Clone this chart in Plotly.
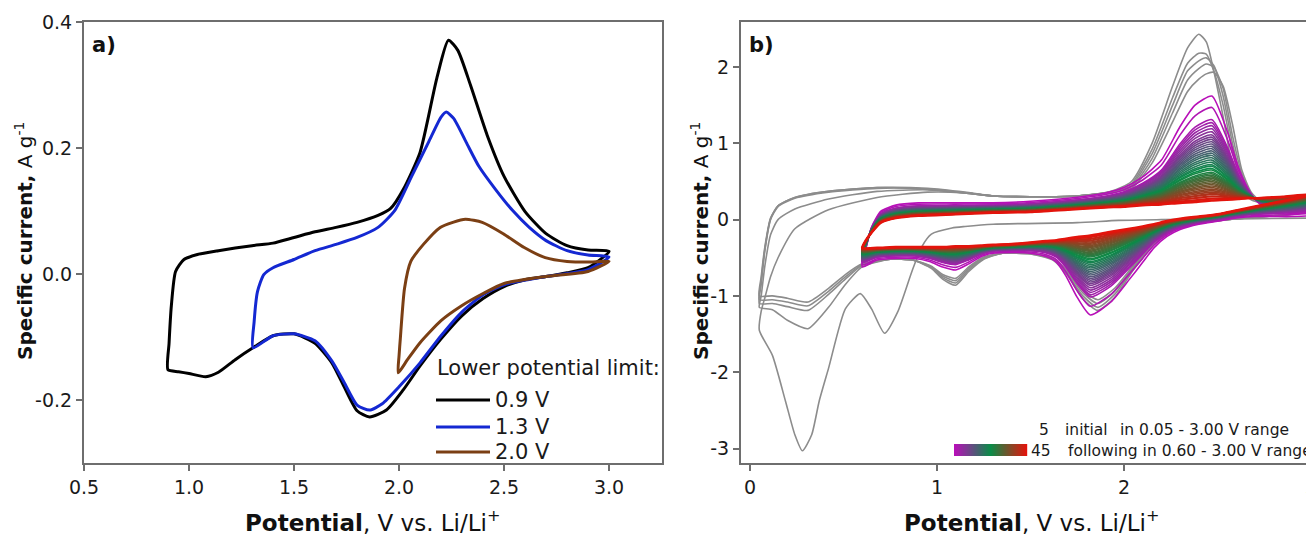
import plotly.graph_objects as go
from plotly.colors import sample_colorscale

# page body has an 8 px margin: the figure is shifted by OX, OY in the window
OX, OY = 8, 8
W, H = 1314 - OX, 534 - OY

# ---------------- Panel a data ----------------
lim_labels = ["0.9 V", "1.3 V", "2.0 V"]
lim_colors = ["#000000", "#1428d2", "#7b3f14"]

a09_up_v = [0.90, 0.905, 0.916, 0.936, 0.976, 1.04, 1.14, 1.30, 1.40, 1.50, 1.60, 1.70, 1.80, 1.90, 1.96, 2.02, 2.10, 2.18, 2.235, 2.28, 2.34, 2.42, 2.50, 2.60, 2.70, 2.80, 2.90, 3.00]
a09_up_i = [-0.152, -0.11, -0.05, 0.004, 0.023, 0.031, 0.037, 0.045, 0.049, 0.058, 0.067, 0.074, 0.082, 0.093, 0.104, 0.134, 0.193, 0.311, 0.371, 0.355, 0.30, 0.22, 0.155, 0.099, 0.064, 0.045, 0.038, 0.036]
a09_dn_v = [3.00, 2.90, 2.80, 2.70, 2.60, 2.50, 2.40, 2.30, 2.20, 2.10, 2.02, 1.94, 1.86, 1.80, 1.74, 1.68, 1.60, 1.50, 1.40, 1.31, 1.22, 1.14, 1.08, 1.00, 0.95, 0.90]
a09_dn_i = [0.02, 0.01, 0.002, -0.004, -0.009, -0.02, -0.039, -0.066, -0.103, -0.146, -0.184, -0.216, -0.227, -0.217, -0.18, -0.141, -0.11, -0.095, -0.098, -0.116, -0.136, -0.156, -0.163, -0.158, -0.155, -0.152]

a13_up_v = [1.305, 1.31, 1.326, 1.356, 1.40, 1.50, 1.60, 1.70, 1.80, 1.90, 1.98, 2.06, 2.14, 2.20, 2.225, 2.26, 2.32, 2.38, 2.46, 2.54, 2.62, 2.70, 2.80, 2.90, 3.00]
a13_up_i = [-0.117, -0.076, -0.028, -0.001, 0.01, 0.023, 0.037, 0.047, 0.058, 0.074, 0.101, 0.155, 0.209, 0.249, 0.257, 0.247, 0.209, 0.171, 0.134, 0.101, 0.074, 0.053, 0.037, 0.030, 0.027]
a13_dn_v = [3.00, 2.90, 2.70, 2.50, 2.40, 2.30, 2.20, 2.10, 2.00, 1.92, 1.86, 1.80, 1.74, 1.68, 1.60, 1.50, 1.40, 1.305]
a13_dn_i = [0.018, 0.007, -0.004, -0.017, -0.033, -0.06, -0.098, -0.141, -0.179, -0.206, -0.216, -0.208, -0.173, -0.138, -0.106, -0.095, -0.098, -0.117]

a20_up_v = [1.996, 2.00, 2.006, 2.026, 2.056, 2.116, 2.196, 2.256, 2.316, 2.396, 2.496, 2.596, 2.696, 2.80, 2.90, 3.00]
a20_up_i = [-0.157, -0.13, -0.103, -0.023, 0.02, 0.047, 0.074, 0.082, 0.087, 0.082, 0.064, 0.042, 0.026, 0.02, 0.019, 0.02]
a20_dn_v = [3.00, 2.90, 2.70, 2.50, 2.40, 2.30, 2.20, 2.10, 2.04, 1.996]
a20_dn_i = [0.01, 0.004, -0.004, -0.015, -0.031, -0.05, -0.074, -0.109, -0.136, -0.157]

a_xticks = [0.5, 1.0, 1.5, 2.0, 2.5, 3.0]
a_xticktext = ["0.5", "1.0", "1.5", "2.0", "2.5", "3.0"]
a_yticks = [-0.2, 0.0, 0.2, 0.4]
a_yticktext = ["-0.2", "0.0", "0.2", "0.4"]

# ---------------- Panel b data ----------------
# cycle 1 cathodic sweep (3.00 -> 0.05 V)
g1_dn_v = [3.00, 2.60, 2.20, 1.97, 1.75, 1.30, 1.15, 1.08, 0.97, 0.92, 0.87, 0.79, 0.72, 0.65, 0.59, 0.51, 0.42, 0.37, 0.33, 0.28, 0.24, 0.19, 0.12, 0.05]
g1_dn_i = [0.02, 0.01, 0.0, -0.01, -0.04, -0.06, -0.09, -0.11, -0.19, -0.35, -0.65, -1.21, -1.49, -1.17, -0.97, -1.17, -1.95, -2.38, -2.82, -3.03, -2.82, -2.38, -1.78, -1.45]

# cycles 2-5 cathodic sweeps (shared potentials)
g_dn_v = [3.00, 2.85, 2.70, 2.55, 2.40, 2.25, 2.15, 2.05, 1.95, 1.86, 1.78, 1.70, 1.62, 1.50, 1.35, 1.25, 1.17, 1.10, 1.03, 0.97, 0.87, 0.75, 0.60, 0.51, 0.42, 0.31, 0.20, 0.12, 0.05]
g2_dn_i = [0.10, 0.06, 0.03, 0.00, -0.05, -0.15, -0.32, -0.60, -0.90, -1.05, -0.92, -0.68, -0.50, -0.44, -0.44, -0.52, -0.68, -0.86, -0.78, -0.64, -0.53, -0.52, -0.62, -0.85, -1.15, -1.43, -1.32, -1.18, -1.15]
g3_dn_i = [0.10, 0.06, 0.03, 0.00, -0.05, -0.15, -0.33, -0.62, -0.94, -1.10, -0.96, -0.70, -0.51, -0.44, -0.44, -0.51, -0.66, -0.83, -0.76, -0.63, -0.53, -0.52, -0.60, -0.78, -0.98, -1.19, -1.14, -1.10, -1.10]
g4_dn_i = [0.10, 0.06, 0.03, 0.00, -0.05, -0.15, -0.34, -0.64, -0.98, -1.15, -1.00, -0.72, -0.52, -0.45, -0.44, -0.50, -0.64, -0.80, -0.74, -0.62, -0.53, -0.52, -0.59, -0.75, -0.94, -1.13, -1.08, -1.05, -1.05]
g5_dn_i = [0.10, 0.06, 0.03, 0.00, -0.05, -0.15, -0.35, -0.66, -1.02, -1.19, -1.04, -0.74, -0.53, -0.45, -0.44, -0.49, -0.62, -0.77, -0.72, -0.61, -0.53, -0.52, -0.58, -0.72, -0.90, -1.08, -1.03, -1.00, -1.00]

# cycles 1-5 anodic sweeps (0.05 -> 3.00 V, shared potentials)
g_up_v = [0.05, 0.06, 0.08, 0.11, 0.15, 0.24, 0.42, 0.68, 0.95, 1.15, 1.30, 1.50, 1.75, 1.93, 2.04, 2.15, 2.26, 2.34, 2.40, 2.44, 2.48, 2.53, 2.58, 2.63, 2.68, 2.74, 2.85, 3.00]
g1_up_i = [-1.45, -1.20, -1.02, -0.75, -0.50, -0.12, 0.13, 0.29, 0.36, 0.35, 0.31, 0.30, 0.31, 0.37, 0.50, 1.00, 1.75, 2.25, 2.43, 2.33, 1.95, 1.35, 0.70, 0.38, 0.26, 0.22, 0.25, 0.32]
g2_up_i = [-1.15, -1.00, -0.60, -0.20, 0.00, 0.14, 0.27, 0.37, 0.39, 0.35, 0.31, 0.30, 0.31, 0.36, 0.47, 0.92, 1.60, 2.05, 2.18, 2.17, 1.95, 1.50, 0.90, 0.48, 0.29, 0.22, 0.25, 0.32]
g3_up_i = [-1.10, -0.85, -0.40, 0.00, 0.17, 0.28, 0.36, 0.41, 0.40, 0.35, 0.31, 0.30, 0.31, 0.36, 0.45, 0.86, 1.50, 1.95, 2.08, 2.12, 2.02, 1.62, 1.00, 0.55, 0.32, 0.22, 0.25, 0.32]
g4_up_i = [-1.05, -0.80, -0.38, 0.01, 0.18, 0.29, 0.37, 0.42, 0.40, 0.35, 0.31, 0.30, 0.31, 0.36, 0.43, 0.80, 1.40, 1.83, 1.98, 2.04, 2.00, 1.72, 1.10, 0.60, 0.34, 0.22, 0.25, 0.32]
g5_up_i = [-1.00, -0.75, -0.35, 0.02, 0.18, 0.29, 0.37, 0.42, 0.41, 0.36, 0.31, 0.30, 0.31, 0.36, 0.41, 0.74, 1.28, 1.68, 1.84, 1.91, 1.93, 1.75, 1.25, 0.65, 0.36, 0.22, 0.25, 0.32]

# following 45 cycles (0.60 - 3.00 V): first (cycle 6) and last (cycle 50) sweeps
c_dn_v = [3.00, 2.90, 2.80, 2.70, 2.60, 2.50, 2.40, 2.30, 2.23, 2.16, 2.10, 2.03, 1.93, 1.82, 1.75, 1.69, 1.64, 1.58, 1.50, 1.40, 1.30, 1.24, 1.17, 1.10, 1.03, 0.96, 0.88, 0.78, 0.68, 0.60]
c_first_dn_i = [0.05, 0.04, 0.04, 0.04, 0.02, -0.02, -0.06, -0.13, -0.22, -0.37, -0.56, -0.78, -1.08, -1.25, -1.02, -0.74, -0.56, -0.48, -0.44, -0.43, -0.44, -0.48, -0.58, -0.66, -0.62, -0.55, -0.51, -0.51, -0.53, -0.62]
c_last_dn_i = [0.33, 0.27, 0.22, 0.17, 0.12, 0.07, 0.04, 0.01, -0.02, -0.06, -0.09, -0.12, -0.16, -0.21, -0.23, -0.25, -0.27, -0.28, -0.30, -0.32, -0.33, -0.34, -0.35, -0.35, -0.36, -0.36, -0.36, -0.36, -0.37, -0.37]
c_up_v = [0.60, 0.62, 0.65, 0.70, 0.78, 0.90, 1.10, 1.30, 1.50, 1.70, 1.90, 2.00, 2.10, 2.20, 2.30, 2.38, 2.47, 2.55, 2.61, 2.66, 2.71, 2.77, 2.85, 2.93, 3.00]
c_first_up_i = [-0.62, -0.38, -0.10, 0.11, 0.19, 0.22, 0.22, 0.22, 0.24, 0.28, 0.35, 0.42, 0.56, 0.78, 1.22, 1.50, 1.62, 1.17, 0.70, 0.42, 0.24, 0.13, 0.09, 0.08, 0.10]
c_last_up_i = [-0.37, -0.27, -0.17, -0.04, 0.02, 0.05, 0.07, 0.09, 0.10, 0.13, 0.16, 0.17, 0.19, 0.20, 0.22, 0.23, 0.25, 0.26, 0.27, 0.28, 0.28, 0.29, 0.30, 0.32, 0.33]
# anodic peak height of each of the 45 following cycles (A/g)
c_peaks = [1.62, 1.47, 1.31, 1.27, 1.23, 1.19, 1.15, 1.11, 1.08, 1.05, 1.02, 0.99, 0.96, 0.93, 0.90,
           0.87, 0.84, 0.81, 0.78, 0.75, 0.72, 0.70, 0.67, 0.65, 0.62, 0.60, 0.58, 0.56, 0.54, 0.52,
           0.50, 0.48, 0.46, 0.44, 0.42, 0.40, 0.38, 0.36, 0.34, 0.33, 0.31, 0.30, 0.28, 0.27, 0.25]
cycle_scale = [[0.0, "#b80fb8"], [0.5, "#0a8c48"], [1.0, "#e3140c"]]

b_xticks = [0, 1, 2, 3]
b_xticktext = ["0", "1", "2", "3"]
b_yticks = [-3, -2, -1, 0, 1, 2]
b_yticktext = ["-3", "-2", "-1", "0", "1", "2"]

# ---------------- figure ----------------
FONT = "DejaVu Sans"
AXC = "#6e6e6e"
fig = go.Figure()

def px(x):
    return (x - OX) / W

def py(y):
    return 1 - (y - OY) / H

a_sets = [(a09_up_v, a09_up_i, a09_dn_v, a09_dn_i),
          (a13_up_v, a13_up_i, a13_dn_v, a13_dn_i),
          (a20_up_v, a20_up_i, a20_dn_v, a20_dn_i)]
for (uv, ui, dv, di), name, col in zip(a_sets, lim_labels, lim_colors):
    fig.add_trace(go.Scatter(x=uv + dv[1:], y=ui + di[1:], mode="lines", name=name,
                             line=dict(color=col, width=3, shape="spline", smoothing=0.6),
                             xaxis="x", yaxis="y", showlegend=False, hoverinfo="skip"))

GRAY = "#8c8c8c"
g_dn = [g2_dn_i, g3_dn_i, g4_dn_i, g5_dn_i]
g_up = [g1_up_i, g2_up_i, g3_up_i, g4_up_i, g5_up_i]
for k in range(5):
    if k == 0:
        xs = g1_dn_v + g_up_v[1:]
        ys = g1_dn_i + g_up[0][1:]
    else:
        xs = g_dn_v + g_up_v[1:]
        ys = g_dn[k - 1] + g_up[k][1:]
    fig.add_trace(go.Scatter(x=xs, y=ys, mode="lines", line=dict(color=GRAY, width=1.6, shape="spline", smoothing=0.6),
                             xaxis="x2", yaxis="y2", showlegend=False, hoverinfo="skip"))

n_c = len(c_peaks)
pk_first = max(c_first_up_i)
pk_last = c_last_up_i[c_first_up_i.index(pk_first)]
cols = sample_colorscale(cycle_scale, [k / (n_c - 1) for k in range(n_c)])
for k, pk in enumerate(c_peaks):
    w = (pk - pk_last) / (pk_first - pk_last)
    dn = [l + w * (f - l) for f, l in zip(c_first_dn_i, c_last_dn_i)]
    up = [l + w * (f - l) for f, l in zip(c_first_up_i, c_last_up_i)]
    fig.add_trace(go.Scatter(x=c_dn_v + c_up_v[1:], y=dn + up[1:], mode="lines",
                             line=dict(color=cols[k], width=2.6 if k == n_c - 1 else 1.6, shape="spline", smoothing=0.6),
                             xaxis="x2", yaxis="y2", showlegend=False, hoverinfo="skip"))

tickfont = dict(family=FONT, size=19, color="#1a1a1a")
axis_common = dict(showgrid=False, zeroline=False, showline=True, linecolor=AXC, linewidth=2, automargin=False,
                   ticks="outside", ticklen=6, tickcolor=AXC, tickwidth=1.5, tickfont=tickfont)

fig.update_layout(
    template="none",
    width=W, height=H, margin=dict(l=0, r=0, t=0, b=0, pad=0, autoexpand=False),
    paper_bgcolor="white", plot_bgcolor="white",
    xaxis=dict(domain=[px(84), px(662)], range=[0.5, 3.252], tickvals=a_xticks, ticktext=a_xticktext,
               mirror=True, anchor="y", **axis_common),
    yaxis=dict(domain=[py(463), py(22)], range=[-0.3, 0.4], tickvals=a_yticks, ticktext=a_yticktext,
               mirror=True, anchor="x", **axis_common),
    xaxis2=dict(domain=[px(741), 1.0], range=[-0.048, 3.016], tickvals=b_xticks, ticktext=b_xticktext,
                mirror=True, anchor="y2", ticklabeloverflow="allow", **axis_common),
    yaxis2=dict(domain=[py(463), py(22)], range=[-3.19, 2.59], tickvals=b_yticks, ticktext=b_yticktext,
                mirror=False, anchor="x2", **axis_common),
    showlegend=False,
)

ann = []
xtitle = "<b>Potential</b>, V vs. Li/Li<sup>+</sup>"
ytitle = "<b>Specific current,</b> A g<sup>-1</sup>"
for cx in (372, 1031):
    ann.append(dict(x=px(cx), y=py(521), xref="paper", yref="paper", text=xtitle, showarrow=False,
                    xanchor="center", yanchor="middle", font=dict(family=FONT, size=23, color="#111")))
for cx in (24, 700):
    ann.append(dict(x=px(cx), y=py(241), xref="paper", yref="paper", text=ytitle, showarrow=False, textangle=-90,
                    xanchor="center", yanchor="middle", font=dict(family=FONT, size=20, color="#111")))
ann.append(dict(x=px(90), y=py(45), xref="paper", yref="paper", text="<b>a)</b>", showarrow=False,
                xanchor="left", yanchor="middle", font=dict(family=FONT, size=21, color="#111")))
ann.append(dict(x=px(747), y=py(45), xref="paper", yref="paper", text="<b>b)</b>", showarrow=False,
                xanchor="left", yanchor="middle", font=dict(family=FONT, size=21, color="#111")))

# legend of panel a
lg_font = dict(family=FONT, size=21, color="#1a1a1a")
ann.append(dict(x=px(435), y=py(368), xref="paper", yref="paper", text="Lower potential limit:", showarrow=False,
                xanchor="left", yanchor="middle", font=lg_font))
shapes = []
for yy, name, col in zip((400, 427, 452), lim_labels, lim_colors):
    shapes.append(dict(type="line", xref="paper", yref="paper", x0=px(436), x1=px(490), y0=py(yy), y1=py(yy),
                       line=dict(color=col, width=3)))
    ann.append(dict(x=px(493), y=py(yy), xref="paper", yref="paper", text=name, showarrow=False,
                    xanchor="left", yanchor="middle", font=lg_font))

# legend of panel b
lb_font = dict(family=FONT, size=15.5, color="#1a1a1a")
for xx, yy, t in [(1037, 430, "5"), (1063, 430, "initial"), (1118, 430, "in 0.05 - 3.00 V range"),
                  (1029, 451, "45"), (1066, 451, "following in 0.60 - 3.00 V range")]:
    ann.append(dict(x=px(xx), y=py(yy), xref="paper", yref="paper", text=t, showarrow=False,
                    xanchor="left", yanchor="middle", font=lb_font))
n_bar = 73
bar_cols = sample_colorscale(cycle_scale, [k / (n_bar - 1) for k in range(n_bar)])
for k in range(n_bar):
    shapes.append(dict(type="rect", xref="paper", yref="paper", x0=px(954 + k), x1=px(955.2 + k),
                       y0=py(456), y1=py(444), line=dict(width=0), fillcolor=bar_cols[k]))

fig.update_layout(annotations=ann, shapes=shapes)
fig.write_html("out.html", config={"displayModeBar": False})
